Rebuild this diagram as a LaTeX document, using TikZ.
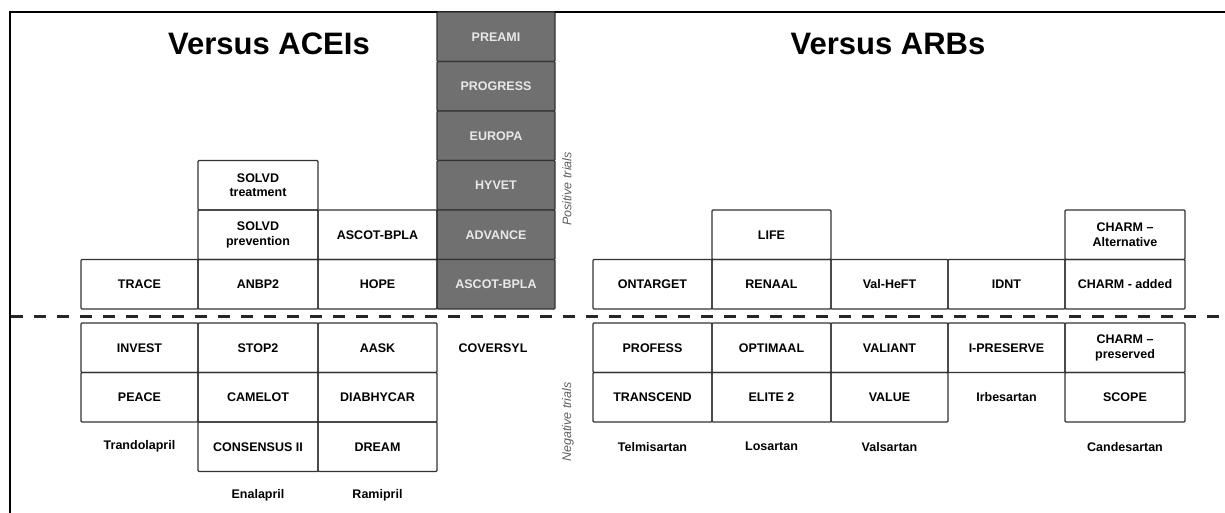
\documentclass[tikz,border=0pt]{standalone}
\usepackage{fontspec}
\setmainfont{Liberation Sans}
\definecolor{boxline}{RGB}{50,50,50}
\definecolor{grayfill}{RGB}{112,112,112}
\definecolor{graytext}{RGB}{232,232,232}
\definecolor{sidetext}{RGB}{95,95,95}
\newcommand\cellfont{\fontsize{12.5}{14.5}\selectfont\bfseries}
\newcommand\titlefont{\fontsize{31}{36}\selectfont\bfseries}
\newcommand\sidefont{\fontsize{12.5}{14}\selectfont\itshape}
\begin{document}
\begin{tikzpicture}[x=1pt,y=-1pt,
  cell/.style={draw=boxline, line width=1.2pt, inner sep=0pt, align=center,
    font=\cellfont, minimum height=49.5pt, rounded corners=1pt},
  graycell/.style={cell, fill=grayfill, draw=black!80, text=graytext, minimum width=118pt},
  lbl/.style={inner sep=0pt, align=center, font=\cellfont},
  side/.style={inner sep=0pt, font=\sidefont, text=sidetext, rotate=90},
  ttl/.style={inner sep=0pt, font=\titlefont, anchor=base},
  wA/.style={minimum width=117pt}, wB/.style={minimum width=120pt},
  wC/.style={minimum width=119pt},
  rA/.style={minimum width=119pt}, rB/.style={minimum width=119pt},
  rC/.style={minimum width=117pt}, rD/.style={minimum width=117pt},
  rE/.style={minimum width=120pt}]
\useasboundingbox (0,0) rectangle (1225,513);
% frame
\draw[line width=2.4pt] (10,513) -- (10,12) -- (1225,12);
% titles
\node[ttl] (tacei) at (269,55) {Versus ACEIs};
\node[ttl] (tarb) at (888,55) {Versus ARBs};
% gray column
\node[graycell] (preami) at (496,36.75) {PREAMI};
\node[graycell] (progress) at (496,86.25) {PROGRESS};
\node[graycell] (europa) at (496,135.75) {EUROPA};
\node[graycell] (hyvet) at (496,185.25) {HYVET};
\node[graycell] (advance) at (496,234.75) {ADVANCE};
\node[graycell] (ascotg) at (496,284.25) {ASCOT-BPLA};
% upper left
\node[cell,wB] (solvdt) at (258,185.25) {SOLVD\\treatment};
\node[cell,wB] (solvdp) at (258,234.75) {SOLVD\\prevention};
\node[cell,wC] (ascotl) at (377.5,234.75) {ASCOT-BPLA};
\node[cell,wA] (trace) at (139.5,284.25) {TRACE};
\node[cell,wB] (anbp2) at (258,284.25) {ANBP2};
\node[cell,wC] (hope) at (377.5,284.25) {HOPE};
% lower left
\node[cell,wA] (invest) at (139.5,347.75) {INVEST};
\node[cell,wA] (peace) at (139.5,397.25) {PEACE};
\node[cell,wB] (stop2) at (258,347.75) {STOP2};
\node[cell,wB] (camelot) at (258,397.25) {CAMELOT};
\node[cell,wB] (consensus) at (258,446.75) {CONSENSUS II};
\node[cell,wC] (aask) at (377.5,347.75) {AASK};
\node[cell,wC] (diabhycar) at (377.5,397.25) {DIABHYCAR};
\node[cell,wC] (dream) at (377.5,446.75) {DREAM};
\node[lbl] (trandolapril) at (139.5,446.75) {Trandolapril};
\node[lbl] (enalapril) at (258,495) {Enalapril};
\node[lbl] (ramipril) at (377.5,495) {Ramipril};
\node[lbl] (coversyl) at (493,347.75) {COVERSYL};
% side labels
\node[side] (pos) at (567,189) {Positive trials};
\node[side] (neg) at (568,422) {Negative trials};
% upper right
\node[cell,rB] (life) at (771.5,234.75) {LIFE};
\node[cell,rE] (charmalt) at (1125,234.75) {CHARM –\\Alternative};
\node[cell,rA] (ontarget) at (652.5,284.25) {ONTARGET};
\node[cell,rB] (renaal) at (771.5,284.25) {RENAAL};
\node[cell,rC] (valheft) at (889.5,284.25) {Val-HeFT};
\node[cell,rD] (idnt) at (1006.5,284.25) {IDNT};
\node[cell,rE] (charmadd) at (1125,284.25) {CHARM - added};
% lower right
\node[cell,rA] (profess) at (652.5,347.75) {PROFESS};
\node[cell,rA] (transcend) at (652.5,397.25) {TRANSCEND};
\node[cell,rB] (optimaal) at (771.5,347.75) {OPTIMAAL};
\node[cell,rB] (elite) at (771.5,397.25) {ELITE 2};
\node[cell,rC] (valiant) at (889.5,347.75) {VALIANT};
\node[cell,rC] (value) at (889.5,397.25) {VALUE};
\node[cell,rD] (ipreserve) at (1006.5,347.75) {I-PRESERVE};
\node[lbl] (irbesartan) at (1006.5,397.25) {Irbesartan};
\node[cell,rE] (charmpres) at (1125,347.75) {CHARM –\\preserved};
\node[cell,rE] (scope) at (1125,397.25) {SCOPE};
\node[lbl] (telmisartan) at (652.5,446.75) {Telmisartan};
\node[lbl] (losartan) at (771.5,446.75) {Losartan};
\node[lbl] (valsartan) at (889.5,446.75) {Valsartan};
\node[lbl] (candesartan) at (1125,446.75) {Candesartan};
% dashed divider
\draw[draw=black!85, line width=3pt, dash pattern=on 12pt off 11pt] (11,316) -- (1225,316);
\end{tikzpicture}
\end{document}
